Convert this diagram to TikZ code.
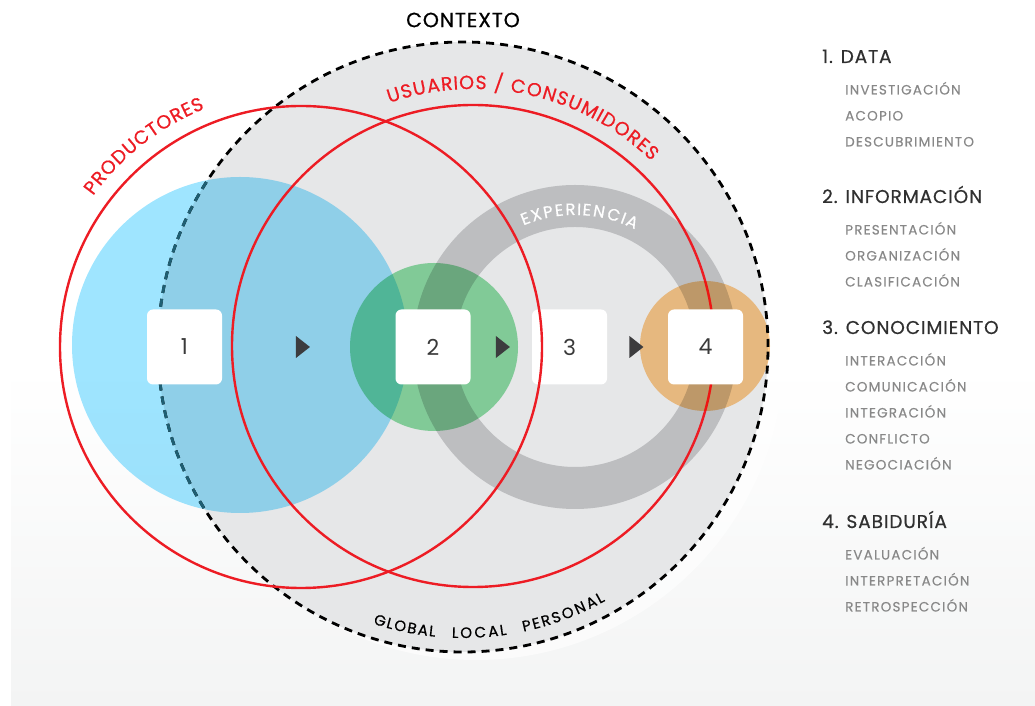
\documentclass[tikz,border=0pt]{standalone}
\usepackage{fontspec}
\setmainfont{Poppins}
\newfontfamily\spacedfont[LetterSpace=4,FakeBold=0.6]{Poppins}
\newfontfamily\legendfont[LetterSpace=5,FakeBold=0.6]{Poppins}
\newfontfamily\itemfont[LetterSpace=9,FakeBold=0.3]{Poppins}
\usepackage{tikz}
\usetikzlibrary{positioning}
\usetikzlibrary{calc}
\usetikzlibrary{shapes.geometric}
\usetikzlibrary{decorations.text}

\definecolor{ctxgray}{HTML}{E6E7E8}
\definecolor{floorgray}{HTML}{F3F4F4}
\definecolor{prodblue}{HTML}{9FE5FF}
\definecolor{infogreen}{HTML}{90DFA7}
\definecolor{wisorange}{HTML}{FFCC8C}
\definecolor{ringgray}{HTML}{BDBEC0}
\definecolor{linered}{HTML}{ED1C24}
\definecolor{dashteal}{HTML}{1E5F73}
\definecolor{tipgray}{HTML}{3C3C3E}
\definecolor{numgray}{HTML}{3A3A3A}
\definecolor{headgray}{HTML}{303030}
\definecolor{itemgray}{HTML}{888888}

\tikzset{
  ctxline/.style={line width=2.8, dash pattern=on 8 off 6},
  redline/.style={linered, line width=2.4},
  numbox/.style={fill=white, rounded corners=6, minimum size=75, inner sep=0,
    font=\fontsize{22}{26}\selectfont, text=numgray},
  tip/.style={isosceles triangle, isosceles triangle stretches, fill=tipgray,
    minimum height=14, minimum width=22, inner sep=0},
  head/.style={anchor=base west, inner sep=0, text=headgray,
    font=\legendfont\fontsize{18.5}{22}\selectfont},
  item/.style={anchor=base west, inner sep=0, text=itemgray,
    font=\itemfont\fontsize{13.5}{16}\selectfont},
  % letters spread along an arc
  arctext/.style n args={3}{decorate, decoration={text effects along path,
    text={#1}, text effects/.cd, text along path, fit text to path,
    every character/.style={inner sep=0, font=\spacedfont\fontsize{#2}{20}\selectfont, text=#3}}},
}

\begin{document}
\begin{tikzpicture}[x=1pt,y=1pt]
\useasboundingbox (0,0) rectangle (1035,706);
\shade[top color=white, bottom color=floorgray] (11,0) rectangle (1035,340);

\coordinate (ctx) at (463,359);
\coordinate (prod) at (301,359);
\coordinate (usu) at (473,360);
\coordinate (exp) at (575,359);

% contexto
\fill[white, opacity=0.6] (476,354) circle (308);
\fill[ctxgray] (ctx) circle (305);
\draw[ctxline] (ctx) circle (305);
\begin{scope}[blend mode=multiply]
\fill[prodblue] (240,361) circle (168);
\end{scope}
\begin{scope}
\clip (240,361) circle (168);
\draw[ctxline, dashteal] (ctx) circle (305);
\end{scope}

% experiencia
\fill[ringgray, even odd rule] (exp) circle (162) (exp) circle (120);
\draw[redline] (usu) circle (241);
\begin{scope}[blend mode=multiply]
\fill[infogreen] (434,359) circle (84);
\fill[wisorange] (705,360) circle (65);
\end{scope}

\node[numbox] (n1) at (184.5,359) {1};
\node[numbox] (n2) at (433,359) {2};
\node[numbox] (n3) at (569.5,359) {3};
\node[numbox] (n4) at (705.5,359) {4};
\draw[redline] (prod) circle (241);

\node[tip] (t12) at ($(n1)!0.47!(n2)$) {};
\node[tip] (t23) at ($(n2)!0.5!(n3)$) {};
\node[tip] (t34) at ($(n3)!0.48!(n4)$) {};

% textos en arco
\node[font=\spacedfont\fontsize{20.5}{24}\selectfont] (ctxlabel) at (463,686) {CONTEXTO};
\path[arctext={PRODUCTORES}{19}{linered}]
  (prod) ++(144:257) arc[start angle=144, end angle=112, radius=257];
\path[arctext={USUARIOS / CONSUMIDORES}{19}{linered}]
  (usu) ++(109:257) arc[start angle=109, end angle=46, radius=257];
\path[arctext={EXPERIENCIA}{16.5}{white}]
  (exp) ++(113:132) arc[start angle=113, end angle=63, radius=132];
\path[arctext={GLOBAL}{15}{black}]
  (ctx) ++(-108:291) arc[start angle=-108, end angle=-95.5, radius=291];
\path[arctext={LOCAL}{15}{black}]
  (ctx) ++(-92.2:291) arc[start angle=-92.2, end angle=-81.3, radius=291];
\path[arctext={PERSONAL}{15}{black}]
  (ctx) ++(-78:291) arc[start angle=-78, end angle=-60.7, radius=291];

% leyenda
\foreach \hy/\hd/\items [count=\k] in {
  643/{1. DATA}/{INVESTIGACIÓN,ACOPIO,DESCUBRIMIENTO},
  503/{2. INFORMACIÓN}/{PRESENTACIÓN,ORGANIZACIÓN,CLASIFICACIÓN},
  372/{3. CONOCIMIENTO}/{INTERACCIÓN,COMUNICACIÓN,INTEGRACIÓN,CONFLICTO,NEGOCIACIÓN},
  178/{4. SABIDURÍA}/{EVALUACIÓN,INTERPRETACIÓN,RETROSPECCIÓN}} {
  \node[head] (head\k) at (822,\hy) {\hd};
  \foreach \t [count=\i] in \items
    \node[item] (item\k-\i) at (845,{\hy-5.5-26*\i}) {\t};
}
\end{tikzpicture}
\end{document}
